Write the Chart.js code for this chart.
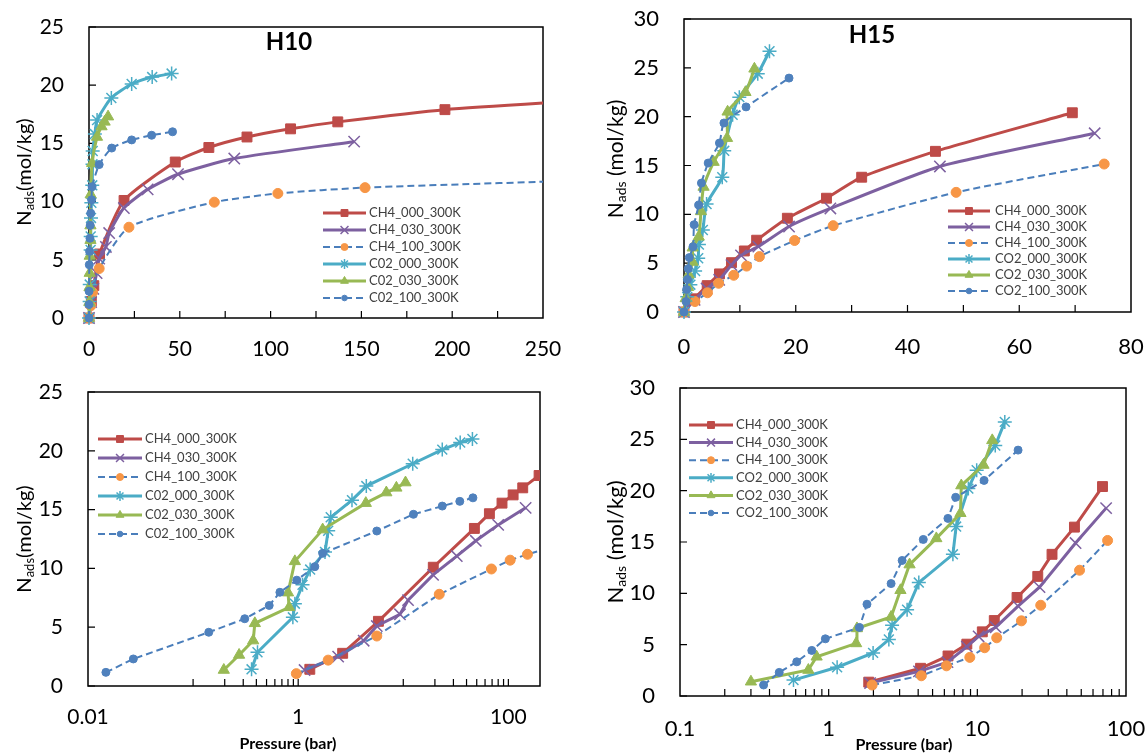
<!DOCTYPE html>
<html>
<head>
<meta charset="utf-8">
<script src="https://cdn.jsdelivr.net/npm/chart.js@4.4.1/dist/chart.umd.min.js"></script>
<style>
  body { margin: 0; background: #fff; }
  .panel { position: absolute; width: 574px; }
</style>
</head>
<body>
<div class="panel" style="left:0;top:0"><canvas id="h10lin" width="574" height="372"></canvas></div>
<div class="panel" style="left:574px;top:0"><canvas id="h15lin" width="574" height="372"></canvas></div>
<div class="panel" style="left:0;top:372px"><canvas id="h10log" width="574" height="382"></canvas></div>
<div class="panel" style="left:574px;top:372px"><canvas id="h15log" width="574" height="382"></canvas></div>
<script>
// series names (H10 legend uses a zero in "C02", H15 uses the letter O)
const namesH10 = ['CH4_000_300K', 'CH4_030_300K', 'CH4_100_300K', 'C02_000_300K', 'C02_030_300K', 'C02_100_300K'];
const namesH15 = ['CH4_000_300K', 'CH4_030_300K', 'CH4_100_300K', 'CO2_000_300K', 'CO2_030_300K', 'CO2_100_300K'];

// H10 isotherms: [pressure (bar), N_ads (mol/kg)]
const h10_ch4_000 = [[0, 0], [1.29, 1.42], [2.65, 2.78], [5.8, 5.5], [19.3, 10.1], [47.5, 13.4], [66, 14.65], [87, 15.55], [111, 16.25], [137, 16.85], [196, 17.9], [300, 18.95]];
const h10_ch4_030 = [[0, 0], [1.15, 1.36], [2.4, 2.5], [4.2, 3.85], [5.6, 5.1], [9.3, 6.1], [11.1, 7.3], [19.2, 9.45], [32.3, 11.05], [49, 12.35], [80, 13.7], [146, 15.15]];
const h10_ch4_100 = [[0, 0], [0.96, 1.05], [1.93, 2.2], [5.6, 4.25], [22, 7.8], [69, 9.95], [104, 10.7], [152, 11.2], [300, 11.95]];
const h10_co2_000 = [[0, 0], [0.36, 1.42], [0.41, 2.87], [0.89, 5.84], [0.93, 7.0], [1.1, 8.6], [1.3, 9.9], [1.8, 11.4], [1.93, 13.2], [2.04, 14.35], [3.25, 15.8], [4.45, 17.0], [12.3, 18.9], [23.5, 20.1], [34.8, 20.7], [45.5, 21.0]];
const h10_co2_030 = [[0, 0], [0.196, 1.36], [0.274, 2.64], [0.373, 3.86], [0.387, 5.33], [0.82, 6.69], [0.8, 7.94], [0.93, 10.6], [1.71, 13.3], [4.4, 15.55], [6.9, 16.45], [8.6, 16.85], [10.5, 17.3]];
const h10_co2_100 = [[0, 0], [0.0148, 1.16], [0.027, 2.3], [0.141, 4.57], [0.31, 5.72], [0.53, 6.85], [0.67, 7.97], [0.97, 9.0], [1.44, 10.15], [1.71, 11.28], [5.6, 13.18], [12.5, 14.6], [23.5, 15.3], [34.5, 15.7], [46, 16.0]];

// H15 isotherms
const h15_ch4_000 = [[0, 0], [1.86, 1.35], [4.15, 2.7], [6.35, 3.9], [8.5, 5.05], [10.8, 6.25], [13.0, 7.35], [18.5, 9.6], [25.5, 11.65], [31.8, 13.8], [45, 16.45], [69.5, 20.4]];
const h15_ch4_030 = [[0, 0], [1.9, 1.25], [4.05, 2.4], [6.3, 3.3], [8.5, 4.8], [10.2, 5.8], [13.3, 6.7], [18.8, 8.75], [26.2, 10.6], [45.8, 14.9], [73.5, 18.3]];
const h15_ch4_100 = [[0, 0], [1.96, 1.07], [4.2, 1.97], [6.2, 2.94], [8.9, 3.76], [11.2, 4.7], [13.5, 5.67], [19.8, 7.32], [26.7, 8.84], [48.7, 12.25], [75.2, 15.15]];
const h15_co2_000 = [[0, 0], [0.58, 1.55], [1.14, 2.8], [1.99, 4.2], [2.54, 5.5], [2.67, 6.9], [3.37, 8.4], [4.04, 11.05], [6.85, 13.8], [7.2, 16.5], [8.7, 20.2], [9.9, 22.0], [13.2, 24.4], [15.3, 26.7]];
const h15_co2_030 = [[0, 0], [0.3, 1.39], [0.73, 2.53], [0.83, 3.82], [1.53, 5.12], [1.55, 6.58], [2.63, 7.7], [3.04, 10.3], [3.5, 12.8], [5.3, 15.35], [7.7, 17.8], [7.8, 20.5], [11.0, 22.5], [12.6, 24.9]];
const h15_co2_100 = [[0, 0], [0.365, 1.07], [0.465, 2.3], [0.61, 3.33], [0.77, 4.44], [0.95, 5.57], [1.61, 6.68], [1.81, 8.94], [2.63, 10.95], [3.12, 13.2], [4.33, 15.25], [6.34, 17.3], [7.15, 19.35], [11.1, 21.0], [18.8, 23.95]];

// tick labels and tick marks
const h10LinXTicks = [0, 50, 100, 150, 200, 250];
const h10LinXMarks = [25, 50, 75, 100, 125, 150, 175, 200, 225];
const h15LinXTicks = [0, 20, 40, 60, 80];
const h15LinXMarks = [10, 20, 30, 40, 50, 60, 70];
const h10LogXTicks = [0.01, 1, 100];
const h10LogXMarks = [0.1, 0.2, 0.3, 0.4, 0.5, 0.6, 0.7, 0.8, 0.9, 1, 10, 20, 30, 40, 50, 60, 70, 80, 90, 100];
const h15LogXTicks = [0.1, 1, 10, 100];
const h15LogXMarks = [0.2, 0.3, 0.4, 0.5, 0.6, 0.7, 0.8, 0.9, 1, 2, 3, 4, 5, 6, 7, 8, 9, 10, 20, 30, 40, 50, 60, 70, 80, 90];
const h10YTicks = [0, 5, 10, 15, 20, 25];
const h15YTicks = [0, 5, 10, 15, 20, 25, 30];

// look of each series, same order as the names
const seriesStyle = [
    { line: '#BE4B48', width: 3, dash: [], marker: 'rect', radius: 7, fill: '#BE4B48', stroke: '#BE4B48', pw: 1 },
    { line: '#7D60A0', width: 3, dash: [], marker: 'crossRot', radius: 8, fill: 'rgba(0,0,0,0)', stroke: '#7D60A0', pw: 1.5 },
    { line: '#4A7EBB', width: 2, dash: [7, 4], marker: 'circle', radius: 5, fill: '#F79646', stroke: '#F79646', pw: 1 },
    { line: '#4BACC6', width: 3, dash: [], marker: 'star', radius: 7, fill: 'rgba(0,0,0,0)', stroke: '#4BACC6', pw: 1.5 },
    { line: '#98B954', width: 3, dash: [], marker: 'triangle', radius: 6.5, fill: '#98B954', stroke: '#98B954', pw: 1 },
    { line: '#4A7EBB', width: 2, dash: [7, 4], marker: 'circle', radius: 4, fill: '#4F81BD', stroke: '#4F81BD', pw: 1 }
];

const FONT = 'Lato';

function drawMarker(ctx, st, x, y, scale) {
    ctx.save();
    ctx.setLineDash([]);
    ctx.fillStyle = st.fill;
    ctx.strokeStyle = st.stroke;
    ctx.lineWidth = st.pw;
    Chart.helpers.drawPoint(ctx, { pointStyle: st.marker, rotation: 0, radius: st.radius * scale, borderWidth: st.pw }, x, y);
    ctx.restore();
}

// frame, inside tick marks, titles and the in-plot legend
const panelDecor = {
    id: 'panelDecor',
    beforeDatasetsDraw(chart, args, o) {
        const ctx = chart.ctx, a = chart.chartArea;
        const xs = chart.scales.x, ys = chart.scales.y;
        ctx.save();
        ctx.strokeStyle = '#000';
        ctx.lineWidth = 1.5;
        ctx.strokeRect(a.left, a.top, a.right - a.left, a.bottom - a.top);
        ctx.lineWidth = 1.2;
        ctx.beginPath();
        o.xMarks.forEach(v => {
            const px = xs.getPixelForValue(v);
            ctx.moveTo(px, a.bottom);
            ctx.lineTo(px, a.bottom - 7);
        });
        o.yMarks.forEach(v => {
            const py = ys.getPixelForValue(v);
            ctx.moveTo(a.left, py);
            ctx.lineTo(a.left + 7, py);
        });
        ctx.stroke();
        ctx.restore();
    },
    afterDraw(chart, args, o) {
        const ctx = chart.ctx;
        ctx.save();
        ctx.fillStyle = '#000';

        // y axis title with subscript
        ctx.save();
        ctx.translate(o.yTitle.x, o.yTitle.y);
        ctx.rotate(-Math.PI / 2);
        const big = o.yTitle.size, small = Math.round(big * 0.65);
        ctx.font = big + 'px ' + FONT;
        const wN = ctx.measureText('N').width;
        const wU = ctx.measureText(o.yTitle.gap + '(mol/kg)').width;
        ctx.font = small + 'px ' + FONT;
        const wS = ctx.measureText('ads').width;
        let x = -(wN + wS + wU) / 2;
        const base = big * 0.36;
        ctx.textBaseline = 'alphabetic';
        ctx.font = big + 'px ' + FONT;
        ctx.fillText('N', x, base);
        x += wN;
        ctx.font = small + 'px ' + FONT;
        ctx.fillText('ads', x, base + 3);
        x += wS;
        ctx.font = big + 'px ' + FONT;
        ctx.fillText(o.yTitle.gap + '(mol/kg)', x, base);
        ctx.restore();

        ctx.textAlign = 'center';
        ctx.textBaseline = 'middle';
        if (o.title) {
            ctx.font = 'bold 24px ' + FONT;
            ctx.fillText(o.title.text, o.title.x, o.title.y);
        }
        if (o.xTitle) {
            ctx.font = 'bold 16px ' + FONT;
            ctx.fillText('Pressure (bar)', o.xTitle.x, o.xTitle.y);
        }

        // legend
        const L = o.legend;
        ctx.textAlign = 'left';
        ctx.font = '13px ' + FONT;
        o.names.forEach((name, i) => {
            const st = seriesStyle[i];
            const y = L.y + L.dy * i;
            ctx.save();
            ctx.strokeStyle = st.line;
            ctx.lineWidth = st.width;
            ctx.setLineDash(st.dash);
            ctx.beginPath();
            ctx.moveTo(L.x0, y);
            ctx.lineTo(L.x1, y);
            ctx.stroke();
            ctx.restore();
            drawMarker(ctx, st, (L.x0 + L.x1) / 2, y, 0.7);
            ctx.fillStyle = '#404040';
            ctx.fillText(name, L.tx, y);
        });
        ctx.restore();
    }
};

function makeChart(id, cfg) {
    const area = cfg.area; // wanted plot box inside the canvas
    const canvas = document.getElementById(id);
    const datasets = cfg.series.map((pts, i) => {
        const st = seriesStyle[i];
        return {
            label: cfg.names[i],
            data: pts.filter(p => cfg.xType !== 'logarithmic' || p[0] > 0).map(p => ({ x: p[0], y: p[1] })),
            showLine: true,
            borderColor: st.line,
            backgroundColor: st.fill,
            borderWidth: st.width,
            borderDash: st.dash,
            pointStyle: st.marker,
            pointRadius: st.radius,
            pointHoverRadius: st.radius,
            pointBackgroundColor: st.fill,
            pointBorderColor: st.stroke,
            pointBorderWidth: st.pw,
            tension: cfg.tension,
            order: 10 - i,
            clip: { left: 12, bottom: 12, top: 0, right: 0 }
        };
    });

    const chart = new Chart(canvas, {
        type: 'scatter',
        data: { datasets: datasets },
        plugins: [panelDecor],
        options: {
            responsive: false,
            animation: false,
            layout: { padding: { top: area.top, right: canvas.width - area.right, left: 0, bottom: 0 } },
            plugins: {
                legend: { display: false },
                tooltip: { enabled: false },
                panelDecor: cfg.decor
            },
            scales: {
                x: {
                    type: cfg.xType,
                    min: cfg.xMin,
                    max: cfg.xMax,
                    afterBuildTicks: s => { s.ticks = cfg.xTicks.map(v => ({ value: v })); },
                    afterFit: s => {
                        s.height = canvas.height - area.bottom;
                        s.paddingLeft = 0;
                        s.paddingRight = 0;
                    },
                    grid: { display: false, drawTicks: false },
                    border: { display: false },
                    ticks: {
                        autoSkip: false,
                        maxRotation: 0,
                        padding: cfg.xPad,
                        color: '#000',
                        font: { family: FONT, size: cfg.xFont },
                        callback: v => String(v)
                    }
                },
                y: {
                    type: 'linear',
                    min: 0,
                    max: cfg.yMax,
                    afterBuildTicks: s => { s.ticks = cfg.yTicks.map(v => ({ value: v })); },
                    afterFit: s => {
                        s.width = area.left;
                        s.paddingTop = 0;
                        s.paddingBottom = 0;
                    },
                    grid: { display: false, drawTicks: false },
                    border: { display: false },
                    ticks: {
                        padding: 25,
                        color: '#000',
                        font: { family: FONT, size: cfg.yFont },
                        callback: v => String(v)
                    }
                }
            }
        }
    });

    // nudge the padding until the plot box sits where the reference has it
    for (let k = 0; k < 3; k++) {
        const a = chart.chartArea, p = chart.options.layout.padding;
        const dTop = area.top - a.top, dRight = a.right - area.right;
        if (Math.abs(dTop) < 0.5 && Math.abs(dRight) < 0.5) break;
        p.top = Math.max(0, p.top + dTop);
        p.right = Math.max(0, p.right + dRight);
        chart.update();
    }
}

makeChart('h10lin', {
    names: namesH10,
    series: [h10_ch4_000, h10_ch4_030, h10_ch4_100, h10_co2_000, h10_co2_030, h10_co2_100],
    xType: 'linear', xMin: 0, xMax: 250, xTicks: h10LinXTicks, yMax: 25, yTicks: h10YTicks,
    tension: 0.2, area: { left: 89, top: 27, right: 543, bottom: 318 }, xPad: 19, xFont: 21, yFont: 21,
    decor: {
        xMarks: h10LinXMarks, yMarks: h10YTicks, names: namesH10,
        yTitle: { x: 24, y: 172, size: 20, gap: '' },
        title: { text: 'H10', x: 289, y: 42 },
        legend: { x0: 323, x1: 366, tx: 369, y: 213, dy: 17 }
    }
});

makeChart('h15lin', {
    names: namesH15,
    series: [h15_ch4_000, h15_ch4_030, h15_ch4_100, h15_co2_000, h15_co2_030, h15_co2_100],
    xType: 'linear', xMin: 0, xMax: 80, xTicks: h15LinXTicks, yMax: 30, yTicks: h15YTicks,
    tension: 0.2, area: { left: 110, top: 19, right: 557, bottom: 312 }, xPad: 22, xFont: 22, yFont: 22,
    decor: {
        xMarks: h15LinXMarks, yMarks: h15YTicks, names: namesH15,
        yTitle: { x: 41, y: 159, size: 21, gap: ' ' },
        title: { text: 'H15', x: 298, y: 35 },
        legend: { x0: 374, x1: 416, tx: 421, y: 211, dy: 16 }
    }
});

makeChart('h10log', {
    names: namesH10,
    series: [h10_ch4_000, h10_ch4_030, h10_ch4_100, h10_co2_000, h10_co2_030, h10_co2_100],
    xType: 'logarithmic', xMin: 0.01, xMax: 200, xTicks: h10LogXTicks, yMax: 25, yTicks: h10YTicks,
    tension: 0, area: { left: 88, top: 20, right: 540, bottom: 314 }, xPad: 19, xFont: 21, yFont: 21,
    decor: {
        xMarks: h10LogXMarks, yMarks: h10YTicks, names: namesH10,
        yTitle: { x: 24, y: 167, size: 20, gap: '' },
        xTitle: { x: 288, y: 372 },
        legend: { x0: 98, x1: 142, tx: 145, y: 67, dy: 19 }
    }
});

makeChart('h15log', {
    names: namesH15,
    series: [h15_ch4_000, h15_ch4_030, h15_ch4_100, h15_co2_000, h15_co2_030, h15_co2_100],
    xType: 'logarithmic', xMin: 0.1, xMax: 100, xTicks: h15LogXTicks, yMax: 30, yTicks: h15YTicks,
    tension: 0, area: { left: 106, top: 16, right: 552, bottom: 324 }, xPad: 20, xFont: 22, yFont: 22,
    decor: {
        xMarks: h15LogXMarks, yMarks: h15YTicks, names: namesH15,
        yTitle: { x: 41, y: 170, size: 22, gap: ' ' },
        xTitle: { x: 330, y: 373 },
        legend: { x0: 115, x1: 159, tx: 162, y: 53, dy: 17.6 }
    }
});
</script>
</body>
</html>
